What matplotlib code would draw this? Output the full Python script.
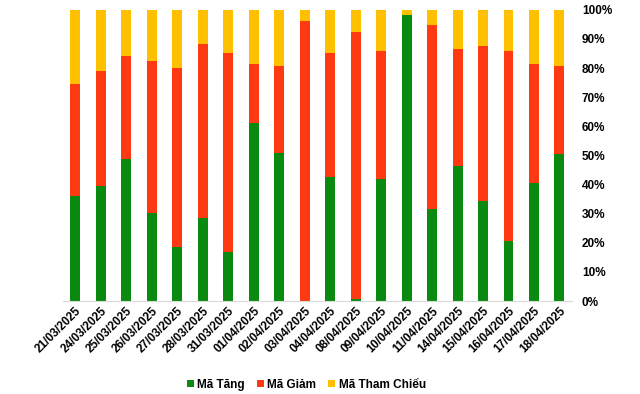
import numpy as np
import matplotlib.pyplot as plt
from matplotlib.ticker import PercentFormatter

plt.rcParams['font.family'] = ['Liberation Sans', 'DejaVu Sans']

dates = ['21/03/2025', '24/03/2025', '25/03/2025', '26/03/2025', '27/03/2025',
         '28/03/2025', '31/03/2025', '01/04/2025', '02/04/2025', '03/04/2025',
         '04/04/2025', '08/04/2025', '09/04/2025', '10/04/2025', '11/04/2025',
         '14/04/2025', '15/04/2025', '16/04/2025', '17/04/2025', '18/04/2025']

# share of codes (%)
ma_tang = [36.2, 39.6, 48.8, 30.3, 18.6, 28.6, 16.9, 61.2, 50.9, 0.0,
           42.6, 0.7, 41.9, 98.3, 31.6, 46.5, 34.4, 20.7, 40.5, 50.5]
ma_giam = [38.4, 39.4, 35.4, 52.2, 61.5, 59.7, 68.3, 20.2, 29.9, 96.2,
           42.6, 91.7, 44.0, 0.0, 63.2, 40.1, 53.2, 65.2, 40.9, 30.3]
ma_tham_chieu = [100 - a - b for a, b in zip(ma_tang, ma_giam)]

x = np.arange(len(dates))
w = 0.39

fig = plt.figure(figsize=(6.4, 3.94), dpi=100)
ax = fig.add_axes([0.098, 0.236, 0.796, 0.739])

ax.bar(x, ma_tang, w, color='#0B8A12', label='Mã Tăng')
ax.bar(x, ma_giam, w, bottom=ma_tang, color='#FF3A12', label='Mã Giảm')
bottom2 = [a + b for a, b in zip(ma_tang, ma_giam)]
ax.bar(x, ma_tham_chieu, w, bottom=bottom2, color='#FFC000', label='Mã Tham Chiếu')

ax.set_xlim(-0.5, len(dates) - 0.5)
ax.set_ylim(0, 100)
ax.set_yticks(np.arange(0, 101, 10))
ax.yaxis.set_major_formatter(PercentFormatter(decimals=0))
ax.yaxis.tick_right()
ax.tick_params(axis='y', length=0, pad=7, labelsize=8.5)
ax.tick_params(axis='x', length=0, pad=3, labelsize=8.5)
for lbl in ax.get_yticklabels():
    lbl.set_fontweight('bold')
ax.set_xticks(x)
ax.set_xticklabels(dates, rotation=45, ha='right', rotation_mode='anchor', fontweight='bold')

for s in ['top', 'left', 'right']:
    ax.spines[s].set_visible(False)
ax.spines['bottom'].set_color('#D9D9D9')

ax.legend(loc='lower center', bbox_to_anchor=(0.478, -0.345), ncol=3, frameon=False,
          handlelength=0.6, handleheight=0.6, handletextpad=0.3,
          columnspacing=1.0, prop={'weight': 'bold', 'size': 8.5})

fig.savefig('out.png', dpi=100)
